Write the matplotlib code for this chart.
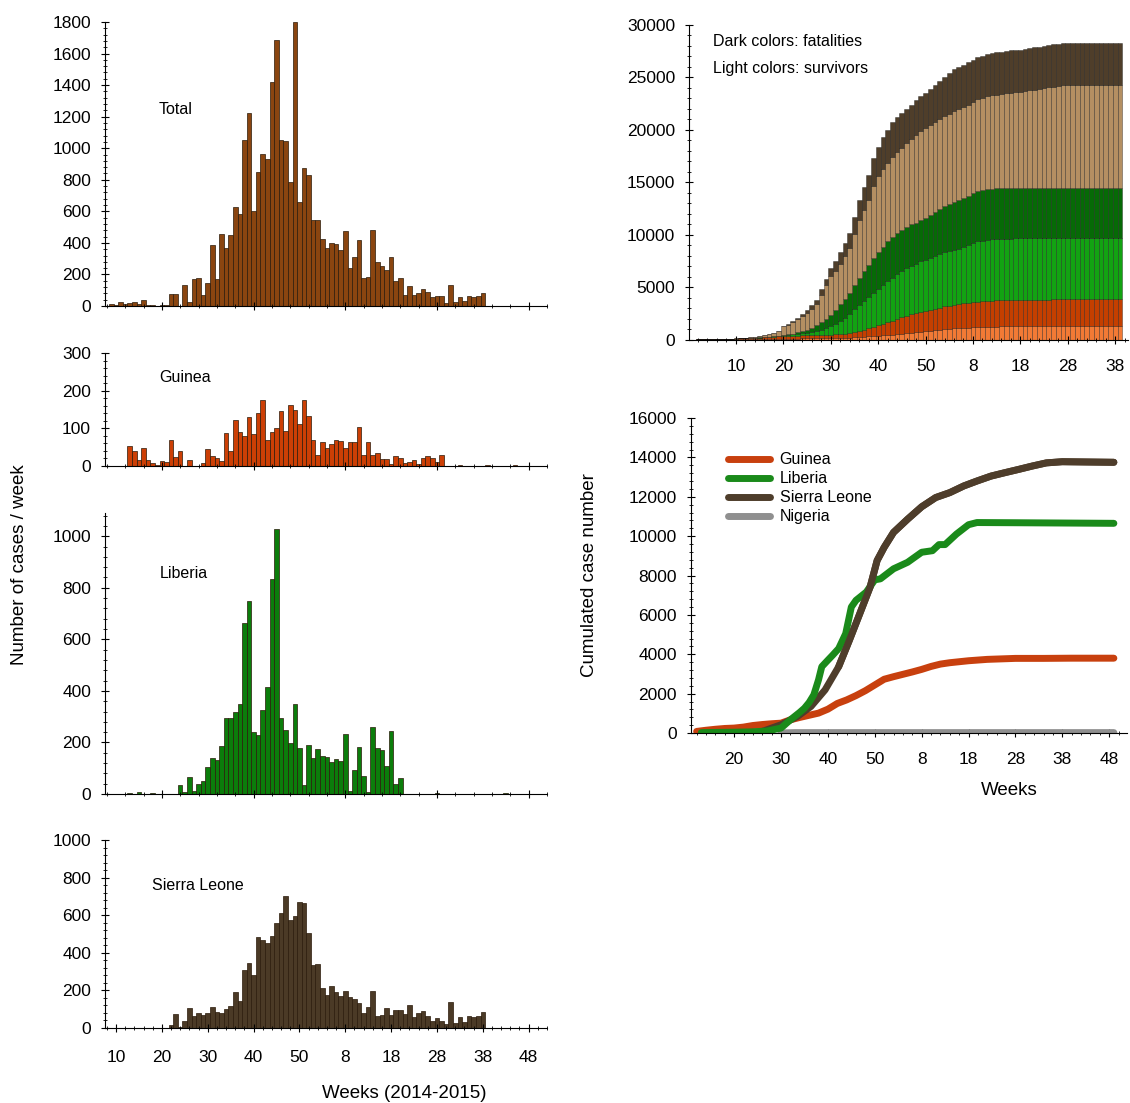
import numpy as np
import matplotlib
matplotlib.use("Agg")
import matplotlib.pyplot as plt
from matplotlib.ticker import MultipleLocator

plt.rcParams['font.family'] = ['Liberation Sans', 'DejaVu Sans']

# ---- weekly cases (left column); week index runs on through 2015 (53 = 2015 wk 1)
total_start = 9
total_cases = [15, 6, 28, 15, 19, 23, 15, 40, 6, 4, 0, 8, 6, 76, 76, 0, 130, 25, 172, 178,
               68, 147, 389, 168, 457, 368, 453, 629, 582, 1054, 1224, 601, 852, 963, 933,
               1417, 1685, 1052, 1043, 786, 1800, 661, 876, 831, 544, 548, 423, 366, 400,
               395, 353, 474, 238, 308, 419, 176, 185, 482, 276, 251, 229, 312, 157, 176,
               72, 128, 72, 81, 106, 87, 59, 62, 66, 19, 136, 25, 57, 32, 64, 57, 62, 83]

guinea_start = 13
guinea_cases = [54, 40, 16, 49, 17, 7, 2, 14, 11, 70, 24, 40, 0, 17, 0, 0, 9, 46, 26, 21,
                12, 88, 40, 122, 91, 80, 131, 84, 140, 174, 68, 89, 101, 147, 94, 163, 149,
                111, 176, 134, 69, 29, 65, 47, 59, 70, 67, 48, 64, 64, 104, 30, 64, 29, 34,
                19, 19, 4, 26, 22, 7, 11, 16, 6, 21, 26, 21, 11, 30,
                0, 0, 0, 3, 0, 0, 0, 0, 0, 2, 1, 0, 1, 0, 0, 2]

liberia_start = 13
liberia_cases = [2, 0, 9, 0, 0, 2, 0, 0, 0, 0, 0,
                 34, 9, 67, 13, 40, 50, 106, 138, 133, 187, 293, 293, 319, 348, 663, 747,
                 239, 227, 324, 415, 833, 1026, 296, 248, 198, 351, 178, 34, 189, 140, 174,
                 146, 145, 123, 137, 127, 231, 10, 93, 182, 68, 6, 258, 180, 169, 110, 243,
                 40, 62, 0, 0, 0, 0, 0, 0, 0, 2, 0, 0, 0, 0, 0, 0, 0, 0, 0, 0, 0, 0, 0, 0, 2]

sierra_start = 22
sierra_cases = [14, 72, 5, 39, 104, 65, 81, 71, 79, 113, 85, 81, 100, 115, 190, 145, 310,
                346, 284, 485, 466, 453, 492, 556, 610, 704, 575, 598, 672, 665, 504, 333,
                342, 215, 176, 222, 194, 171, 196, 166, 153, 134, 79, 113, 196, 63, 67, 104,
                71, 95, 95, 72, 122, 56, 81, 88, 62, 35, 51, 39, 21, 139, 25, 58, 34, 63, 60,
                62, 85]

week_ticks = [10, 20, 30, 40, 50, 60, 70, 80, 90, 100]
week_labels = ['10', '20', '30', '40', '50', '8', '18', '28', '38', '48']

# ---- cumulative stacked bars (top right), weeks 2..91
cum_start = 2
guinea_surv = [5, 8, 10, 12, 15, 18, 20, 25,
               30, 35, 40, 45, 50, 55, 60, 65, 70, 75,
               80, 85, 90, 95, 100, 100, 100, 105, 110, 120,
               130, 140, 150, 165, 185, 200, 230, 280, 320, 350,
               370, 390, 410, 460, 500, 550, 600, 650, 700, 750,
               800, 850, 900, 950, 1000, 1030, 1050, 1080, 1110, 1140,
               1170, 1200, 1215, 1225, 1235, 1240, 1245, 1250, 1250, 1255,
               1255, 1260, 1260, 1260, 1265, 1265, 1265, 1270, 1270, 1270,
               1270, 1270, 1270, 1270, 1270, 1270, 1270, 1270, 1270, 1270, 1270, 1270]
guinea_dead = [5, 7, 10, 13, 15, 22, 30, 35,
               50, 65, 80, 95, 110, 125, 140, 165, 190, 225,
               270, 275, 280, 285, 290, 300, 305, 305, 310, 320,
               330, 350, 370, 395, 435, 500, 570, 640, 730, 850,
               980, 1110, 1240, 1340, 1450, 1550, 1650, 1750, 1800, 1900,
               1950, 2000, 2050, 2100, 2150, 2190, 2250, 2300, 2340, 2380,
               2400, 2400, 2425, 2455, 2475, 2500, 2515, 2530, 2540, 2545,
               2545, 2545, 2545, 2550, 2550, 2550, 2550, 2550, 2550, 2550,
               2550, 2550, 2550, 2550, 2550, 2550, 2550, 2550, 2550, 2550, 2550, 2550]
liberia_surv = [0, 0, 0, 0, 0, 0, 0, 0,
                0, 0, 5, 5, 10, 10, 15, 20, 30, 40,
                60, 80, 110, 150, 200, 260, 330, 420, 520, 640,
                800, 1000, 1250, 1500, 1800, 2200, 2500, 2800, 3050, 3250,
                3450, 3700, 3950, 4100, 4300, 4450, 4550, 4650, 4720, 4800,
                4880, 4950, 5020, 5090, 5150, 5200, 5250, 5300, 5380, 5460,
                5600, 5750, 5800, 5830, 5840, 5840, 5840, 5840, 5840, 5840,
                5840, 5840, 5840, 5840, 5840, 5840, 5840, 5840, 5840, 5840,
                5840, 5840, 5840, 5840, 5840, 5840, 5840, 5840, 5840, 5840, 5840, 5840]
liberia_dead = [0, 0, 0, 0, 0, 0, 0, 0,
                0, 0, 0, 0, 5, 5, 10, 10, 15, 20,
                40, 60, 90, 140, 200, 280, 380, 520, 700, 900,
                1100, 1350, 1600, 1850, 2050, 2300, 2550, 2800, 3050, 3300,
                3500, 3650, 3800, 3850, 3880, 3900, 3920, 3930, 3940, 3950,
                4000, 4100, 4200, 4300, 4400, 4500, 4600, 4650, 4700, 4750,
                4800, 4830, 4830, 4830, 4830, 4830, 4830, 4830, 4830, 4830,
                4830, 4830, 4830, 4830, 4830, 4830, 4830, 4830, 4830, 4830,
                4830, 4830, 4830, 4830, 4830, 4830, 4830, 4830, 4830, 4830, 4830, 4830]
sierra_surv = [0, 0, 0, 0, 0, 0, 0, 0,
               20, 30, 40, 60, 90, 130, 180, 250, 330, 420,
               800, 930, 1080, 1240, 1420, 1610, 1805, 2030, 2640, 3180,
               3660, 3740, 3850, 4040, 4280, 4850, 5550, 5830, 6150, 6900,
               7250, 7400, 7400, 7700, 7790, 7850, 7980, 8110, 8320, 8470,
               8500, 8520, 8540, 8560, 8580, 8600, 8620, 8640, 8660, 8680,
               8700, 8720, 8780, 8840, 8900, 8950, 9000, 9040, 9080, 9110,
               9150, 9220, 9290, 9360, 9430, 9500, 9570, 9640, 9700, 9760,
               9800, 9800, 9800, 9800, 9800, 9800, 9800, 9800, 9800, 9800, 9800, 9800]
sierra_dead = [0, 0, 0, 0, 0, 0, 0, 0,
               0, 0, 0, 0, 0, 0, 10, 15, 20, 30,
               50, 70, 100, 140, 190, 250, 330, 420, 520, 640,
               780, 920, 1080, 1250, 1450, 1650, 1900, 2150, 2400, 2650,
               2850, 3050, 3200, 3250, 3280, 3300, 3300, 3310, 3320, 3330,
               3400, 3500, 3600, 3700, 3800, 3900, 4000, 4030, 4030, 4030,
               4030, 4030, 4030, 4030, 4030, 4030, 4030, 4030, 4030, 4030,
               4030, 4030, 4030, 4030, 4030, 4030, 4030, 4030, 4030, 4030,
               4030, 4030, 4030, 4030, 4030, 4030, 4030, 4030, 4030, 4030, 4030, 4030]
cum_ticks = [10, 20, 30, 40, 50, 60, 70, 80, 90]
cum_labels = ['10', '20', '30', '40', '50', '8', '18', '28', '38']

# ---- cumulated case number lines (middle right)
guinea_wk = [12, 14, 16, 18, 20, 22, 24, 26, 28, 30, 32, 34, 36, 38, 40, 42, 44, 46, 48, 50,
             52, 54, 56, 58, 60, 62, 64, 66, 68, 70, 74, 80, 86, 92, 101]
guinea_cum = [80, 140, 190, 230, 250, 300, 380, 430, 470, 500, 670, 790, 900, 1010, 1210,
              1500, 1680, 1900, 2150, 2440, 2730, 2860, 2980, 3100, 3230, 3380, 3500, 3570,
              3620, 3670, 3740, 3790, 3790, 3800, 3800]
liberia_wk = [13, 16, 20, 24, 27, 30, 32, 34, 35, 36, 37, 38, 38.7, 40, 41, 42.3, 43.8, 45,
              46, 48.2, 50, 51.2, 54, 57, 60, 62.3, 63.7, 65, 67.4, 70, 71.8, 80, 101]
liberia_cum = [20, 30, 40, 60, 100, 250, 670, 1050, 1260, 1550, 1940, 2700, 3370, 3700, 3950,
               4290, 5050, 6400, 6740, 7160, 7780, 7830, 8340, 8670, 9180, 9260, 9570, 9570,
               10100, 10580, 10690, 10680, 10650]
sierra_wk = [22, 24, 26, 28, 30, 33.5, 36.4, 39.4, 42.3, 44.6, 46.8, 49, 50.5, 52, 54, 57, 60,
             63, 66, 69, 71.8, 74.8, 77.7, 80.7, 83.6, 86.6, 90, 101]
sierra_cum = [0, 30, 80, 250, 420, 840, 1350, 2190, 3370, 4720, 6060, 7410, 8760, 9430, 10190,
              10860, 11490, 11960, 12210, 12550, 12800, 13050, 13220, 13390, 13560, 13720,
              13780, 13750]
nigeria_wk = [30, 31, 33, 101]
nigeria_cum = [0, 10, 20, 20]

W, H = 1130, 1103
fig = plt.figure(figsize=(W / 100, H / 100), dpi=100)


def rect(x0, y_top, x1, y_bot):
    return [x0 / W, 1 - y_bot / H, (x1 - x0) / W, (y_bot - y_top) / H]


def style(ax):
    for s in ['top', 'right']:
        ax.spines[s].set_visible(False)
    ax.spines['left'].set_linewidth(0.8)
    ax.spines['bottom'].set_linewidth(0.8)
    ax.tick_params(which='major', direction='inout', length=6, width=0.8, labelsize=12.5)
    ax.tick_params(which='minor', direction='inout', length=3, width=0.6)
    ax.tick_params(axis='x', which='major', pad=11)
    ax.tick_params(axis='y', which='major', pad=7)


# ---- weekly histograms
panels = [
    ('Total', total_start, total_cases, '#8a4510', (22, 306), 1800, 200, (159, 109)),
    ('Guinea', guinea_start, guinea_cases, '#cc3f05', (353, 466), 300, 100, (159, 378)),
    ('Liberia', liberia_start, liberia_cases, '#0b7d0b', (513, 794), 1090, 200, (160, 573)),
    ('Sierra Leone', sierra_start, sierra_cases, '#4b3a26', (840, 1028), 1000, 200, (152, 885)),
]
for name, start, vals, col, (yt, yb), ymax, ystep, (tx, ty) in panels:
    ax = fig.add_axes(rect(105, yt, 547, yb))
    wk = np.arange(start, start + len(vals))
    ax.bar(wk, vals, width=1.0, color=col, edgecolor='#2a1a0a', linewidth=0.5)
    ax.set_xlim(7.6, 104)
    ax.set_ylim(0, ymax)
    ax.yaxis.set_major_locator(MultipleLocator(ystep))
    ax.yaxis.set_minor_locator(MultipleLocator(ystep / 5))
    style(ax)
    ax.text(tx / W, 1 - ty / H, name, transform=fig.transFigure, fontsize=11.5,
            va='center', ha='left')
    if name == 'Sierra Leone':
        ax.xaxis.set_major_locator(MultipleLocator(10))
        ax.xaxis.set_minor_locator(MultipleLocator(2))
        ax.tick_params(axis='x', which='major', labelbottom=False)
        # week labels written below the axis, one per major tick
        off = -(1057 - 1028) / (1028 - 840)
        for x, lab in zip(week_ticks, week_labels):
            ax.text(x, off, lab, transform=ax.get_xaxis_transform(), fontsize=12.5,
                    ha='center', va='center', clip_on=False)
    else:
        ax.xaxis.set_major_locator(MultipleLocator(20))
        ax.xaxis.set_minor_locator(MultipleLocator(4))
        ax.tick_params(axis='x', which='major', labelbottom=False)

fig.text(20 / W, 1 - 565 / H, 'Number of cases / week', rotation=90, fontsize=13.5,
         ha='center', va='center')
fig.text(404 / W, 1 - 1093 / H, 'Weeks (2014-2015)', fontsize=13.5, ha='center', va='center')

# ---- stacked cumulative bars
ax = fig.add_axes(rect(689, 25, 1128, 339.5))
wk = np.arange(cum_start, cum_start + len(guinea_surv))
layers = [(guinea_surv, '#f27a35'), (guinea_dead, '#c43f00'), (liberia_surv, '#12a312'),
          (liberia_dead, '#066a06'), (sierra_surv, '#b48f62'), (sierra_dead, '#4f3e2a')]
bottom = np.zeros(len(wk))
for vals, col in layers:
    v = np.array(vals, dtype=float)
    ax.bar(wk, v, width=1.0, bottom=bottom, color=col, edgecolor=(0, 0, 0, 0.45), linewidth=0.5)
    bottom += v
ax.set_xlim(0.1, 92.7)
ax.set_ylim(0, 30000)
ax.yaxis.set_major_locator(MultipleLocator(5000))
ax.yaxis.set_minor_locator(MultipleLocator(1000))
ax.set_xticks(cum_ticks, labels=cum_labels)
ax.set_xticks(np.arange(2, 93, 2), minor=True)
style(ax)
ax.text(713 / W, 1 - 41 / H, 'Dark colors: fatalities', transform=fig.transFigure,
        fontsize=11.5, va='center')
ax.text(713 / W, 1 - 68 / H, 'Light colors: survivors', transform=fig.transFigure,
        fontsize=11.5, va='center')

# ---- cumulated case lines
ax = fig.add_axes(rect(691, 418, 1127, 733))
line_kw = dict(linewidth=5, solid_capstyle='round', solid_joinstyle='round')
ax.plot(nigeria_wk, nigeria_cum, color='#8f8f8f', label='Nigeria', **line_kw)
ax.plot(guinea_wk, guinea_cum, color='#c8400e', label='Guinea', **line_kw)
ax.plot(sierra_wk, sierra_cum, color='#4e3d2b', label='Sierra Leone', **line_kw)
ax.plot(liberia_wk, liberia_cum, color='#1a8a1a', label='Liberia', **line_kw)
ax.plot(sierra_wk[8:], sierra_cum[8:], color='#4e3d2b', **line_kw)
ax.set_xlim(10.8, 103.8)
ax.set_ylim(0, 16000)
ax.yaxis.set_major_locator(MultipleLocator(2000))
ax.yaxis.set_minor_locator(MultipleLocator(400))
ax.set_xticks(week_ticks[1:], labels=week_labels[1:])
ax.set_xticks(np.arange(12, 104, 2), minor=True)
style(ax)
handles, names = ax.get_legend_handles_labels()
order = [names.index(n) for n in ['Guinea', 'Liberia', 'Sierra Leone', 'Nigeria']]
ax.legend([handles[i] for i in order], [names[i] for i in order], loc='upper left',
          bbox_to_anchor=((722 - 691) / 436, (733 - 446) / 315), frameon=False, fontsize=11.5,
          handlelength=2.6, handletextpad=0.6, labelspacing=0.25, borderaxespad=0)
ax.set_ylabel('Cumulated case number', fontsize=13.5)
ax.yaxis.set_label_coords((598 - 691) / 436, 0.5)
ax.set_xlabel('Weeks', fontsize=13.5)
ax.xaxis.set_label_coords((1009 - 691) / 436, -(782 - 733) / 315)

fig.savefig('out.png', dpi=100)
